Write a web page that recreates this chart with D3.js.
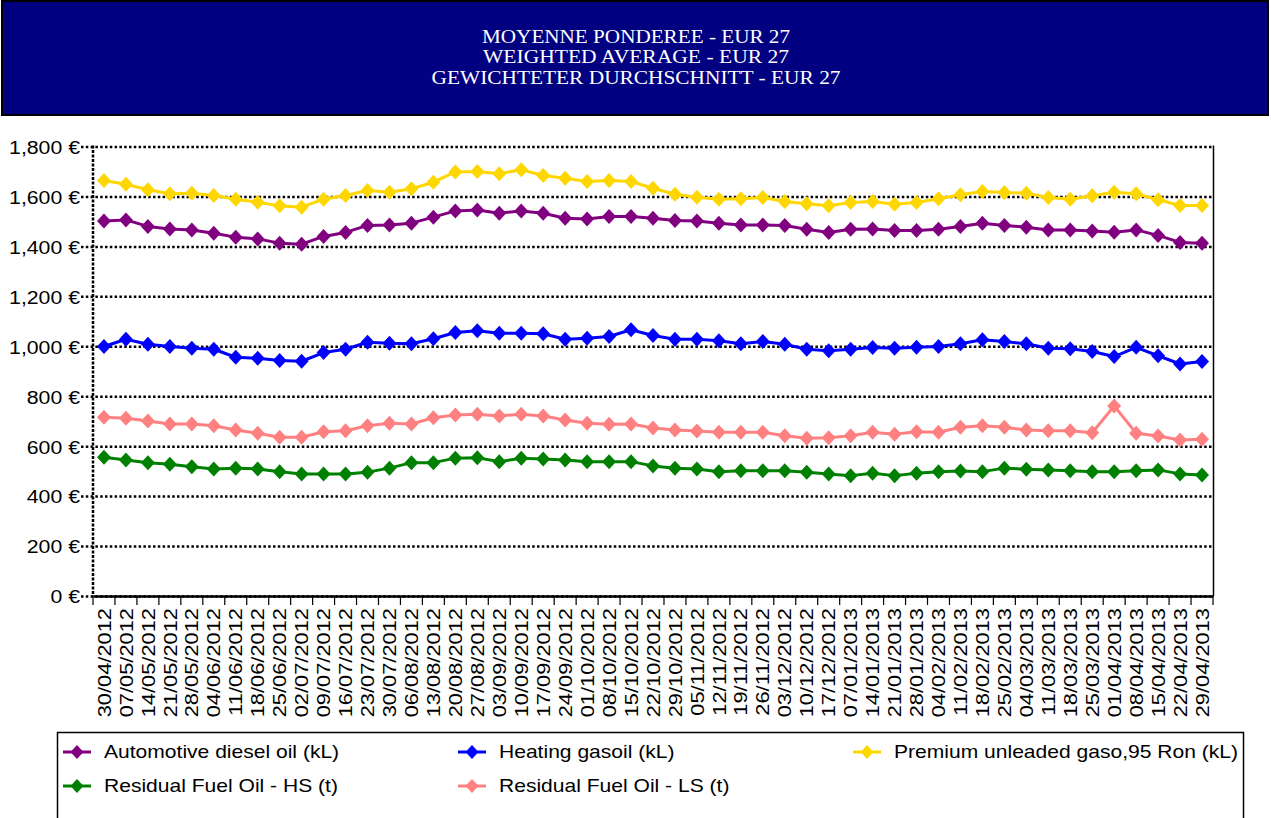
<!DOCTYPE html>
<html><head><meta charset="utf-8">
<script src="https://cdn.jsdelivr.net/npm/d3@7"></script>
<style>body{margin:0;background:#fff;} svg{display:block;}</style>
</head><body><svg id="c" width="1271" height="818"></svg>
<script>
const titleLines = ["MOYENNE PONDEREE - EUR 27", "WEIGHTED AVERAGE - EUR 27", "GEWICHTETER DURCHSCHNITT - EUR 27"];
const categories = ["30/04/2012","07/05/2012","14/05/2012","21/05/2012","28/05/2012","04/06/2012","11/06/2012","18/06/2012","25/06/2012","02/07/2012","09/07/2012","16/07/2012","23/07/2012","30/07/2012","06/08/2012","13/08/2012","20/08/2012","27/08/2012","03/09/2012","10/09/2012","17/09/2012","24/09/2012","01/10/2012","08/10/2012","15/10/2012","22/10/2012","29/10/2012","05/11/2012","12/11/2012","19/11/2012","26/11/2012","03/12/2012","10/12/2012","17/12/2012","07/01/2013","14/01/2013","21/01/2013","28/01/2013","04/02/2013","11/02/2013","18/02/2013","25/02/2013","04/03/2013","11/03/2013","18/03/2013","25/03/2013","01/04/2013","08/04/2013","15/04/2013","22/04/2013","29/04/2013"];
const dieselValues = [1502,1506,1480,1470,1466,1453,1437,1430,1413,1409,1440,1456,1484,1486,1493,1517,1542,1546,1533,1542,1533,1513,1510,1520,1520,1513,1504,1502,1493,1486,1486,1484,1469,1456,1469,1470,1464,1464,1469,1480,1493,1484,1477,1466,1466,1462,1457,1466,1444,1416,1413];
const heatingValues = [999,1028,1008,999,992,988,956,952,943,940,975,988,1016,1012,1010,1030,1055,1062,1052,1052,1050,1028,1032,1039,1066,1043,1028,1028,1022,1010,1019,1008,988,982,988,995,992,996,999,1010,1026,1019,1010,992,990,979,959,996,962,929,939];
const premiumValues = [1664,1649,1627,1611,1613,1604,1589,1577,1563,1557,1589,1604,1624,1617,1631,1657,1698,1700,1691,1707,1684,1673,1660,1664,1660,1633,1609,1597,1589,1591,1596,1580,1571,1563,1576,1580,1569,1576,1591,1607,1620,1616,1613,1596,1589,1603,1617,1611,1587,1564,1564];
const hsValues = [556,545,534,528,518,509,512,509,498,489,489,489,496,512,534,534,552,554,538,552,549,545,538,538,538,521,512,509,498,502,502,502,496,489,482,492,482,492,498,501,498,512,508,505,502,498,498,502,505,489,485];
const lsValues = [716,712,701,689,689,682,665,652,636,636,658,662,682,692,689,714,725,728,721,728,721,705,692,688,689,673,665,661,656,656,656,642,632,634,642,656,648,658,656,676,682,676,665,662,662,654,761,652,641,625,628];
const seriesNames = ["Automotive diesel oil (kL)","Heating gasoil (kL)","Premium unleaded gaso,95 Ron (kL)","Residual Fuel Oil - HS (t)","Residual Fuel Oil - LS (t)"];
const seriesColors = ["#800080","#0000FF","#FFD700","#008000","#FF8080"];
const yTicks = [0,200,400,600,800,1000,1200,1400,1600,1800];

const series = [dieselValues, heatingValues, premiumValues, hsValues, lsValues].map((v,i)=>({name:seriesNames[i], color:seriesColors[i], values:v}));

const svg = d3.select("#c");
const FONT = "'Liberation Sans', Arial, sans-serif";

// Header
svg.append("rect").attr("x",2).attr("y",1).attr("width",1266).attr("height",114)
  .attr("fill","#000080").attr("stroke","#000").attr("stroke-width",2);
const titleBase = [43,63,84], titleLen = [308,306,409];
svg.selectAll("text.title").data(titleLines).join("text").attr("class","title")
  .attr("x",636).attr("y",(d,i)=>titleBase[i])
  .attr("text-anchor","middle").attr("fill","#fff")
  .attr("font-family","'Liberation Serif','Times New Roman',serif").attr("font-size",19)
  .attr("textLength",(d,i)=>titleLen[i]).attr("lengthAdjust","spacingAndGlyphs")
  .text(d=>d);

// Scales
const L = 93, R = 1213, B = 596, T = 146.5;
const x = d3.scaleBand().domain(categories).range([L,R]);
const y = d3.scaleLinear().domain([0,1800]).range([B,T]);

// Y axis with gridlines
const yAxis = svg.append("g").attr("transform",`translate(${L},0)`)
  .call(d3.axisLeft(y).tickValues(yTicks).tickSize(0).tickFormat(d=>d3.format(",")(d)+" €"));
yAxis.select(".domain").remove();
yAxis.selectAll(".tick line").attr("x1",-12).attr("x2",R-L)
  .attr("stroke","#000").attr("stroke-width",2.5).attr("stroke-dasharray","2.5,2.3");
yAxis.selectAll(".tick text").attr("x",0).attr("dy","0.36em")
  .attr("transform","translate(-13,0) scale(1.12,1)")
  .attr("font-family",FONT).attr("font-size",19).attr("fill","#000");

// left axis line (dotted heavy)
svg.append("line").attr("x1",L).attr("x2",L).attr("y1",T-1).attr("y2",B)
  .attr("stroke","#000").attr("stroke-width",2.5).attr("stroke-dasharray","3,1.5");
// right border
svg.append("line").attr("x1",R+0.5).attr("x2",R+0.5).attr("y1",T-1).attr("y2",B)
  .attr("stroke","#000").attr("stroke-width",1.5);

// X axis
const xAxis = svg.append("g").attr("transform",`translate(0,${B})`)
  .call(d3.axisBottom(x).tickSize(0));
xAxis.select(".domain").attr("stroke","#000").attr("stroke-width",2.5);
xAxis.selectAll(".tick text").attr("x",0).attr("y",0).attr("dy","0.35em")
  .attr("text-anchor","end")
  .attr("transform","translate(0,12) rotate(-90) scale(1.15,1)")
  .attr("font-family",FONT).attr("font-size",19).attr("fill","#000");
// boundary ticks
xAxis.selectAll("line.bt").data(categories.concat(["__end"])).join("line").attr("class","bt")
  .attr("x1",d=> d==="__end" ? R : x(d)).attr("x2",d=> d==="__end" ? R : x(d))
  .attr("y1",0).attr("y2",9).attr("stroke","#000").attr("stroke-width",1.2);

// Lines and markers
const cx = (i)=> x(categories[i]) + x.bandwidth()/2;
const line = d3.line().x((d,i)=>cx(i)).y(d=>y(d));
const diamond = "M0,-7.5L7,0L0,7.5L-7,0Z";
const sg = svg.selectAll("g.series").data(series).join("g").attr("class","series");
sg.append("path").attr("d",d=>line(d.values)).attr("fill","none")
  .attr("stroke",d=>d.color).attr("stroke-width",3).attr("stroke-linejoin","round");
sg.each(function(s){
  d3.select(this).selectAll("path.m").data(s.values).join("path").attr("class","m")
    .attr("d",diamond).attr("transform",(d,i)=>`translate(${cx(i)},${y(d)})`)
    .attr("fill",s.color);
});

// Legend
svg.append("rect").attr("x",57.5).attr("y",732.5).attr("width",1186).attr("height",120)
  .attr("fill","#fff").attr("stroke","#000").attr("stroke-width",1.5);
const legX = [77,472,867], legY = [752,786];
const lg = svg.selectAll("g.leg").data(series).join("g").attr("class","leg")
  .attr("transform",(d,i)=>`translate(${legX[i%3]},${legY[Math.floor(i/3)]})`);
lg.append("line").attr("x1",-14).attr("x2",14).attr("y1",0).attr("y2",0)
  .attr("stroke",d=>d.color).attr("stroke-width",3);
lg.append("path").attr("d","M0,-7L6.5,0L0,7L-6.5,0Z").attr("fill",d=>d.color);
lg.append("text").attr("transform","translate(27,4) scale(1.17,1)").attr("dy","0.32em")
  .attr("y",-4)
  .attr("font-family",FONT).attr("font-size",18).attr("fill","#000").text(d=>d.name);
</script></body></html>
